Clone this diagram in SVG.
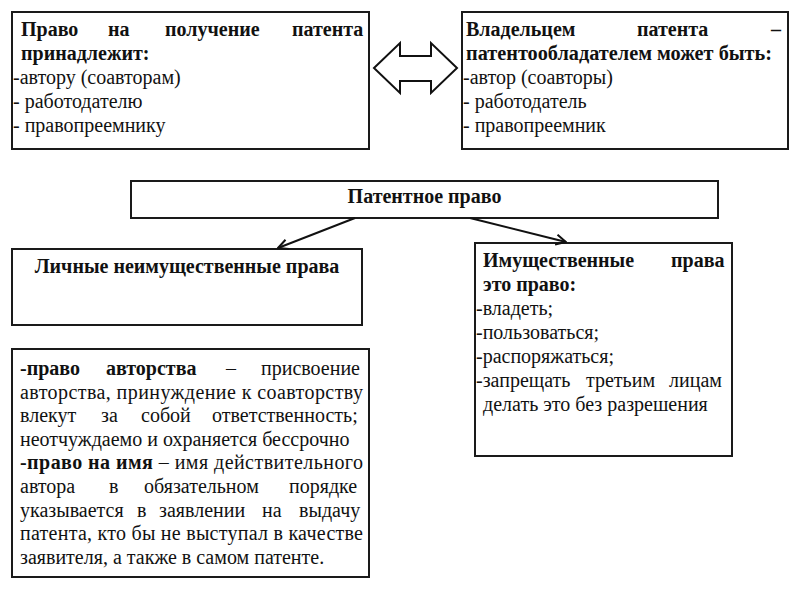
<svg xmlns="http://www.w3.org/2000/svg" width="800" height="600" viewBox="0 0 800 600">
<style>
.box{fill:#fff;stroke:#1a1a1a;stroke-width:2}
text{font-family:'Liberation Serif','DejaVu Serif','Times New Roman',serif;font-size:20px;fill:#111}
.b{font-weight:bold}
.conn{stroke:#111;stroke-width:2;fill:none}
</style>
<defs>
<marker id="arr" viewBox="0 0 12 12" refX="11" refY="6" markerWidth="12" markerHeight="12" markerUnits="userSpaceOnUse" orient="auto">
<path d="M1,1 L11,6 L1,11" fill="none" stroke="#111" stroke-width="2"/>
</marker>
</defs>
<rect width="800" height="600" fill="#fff"/>

<g id="node-right-to-patent">
<rect class="box" x="12" y="12" width="357" height="137"/>
<text class="b" y="36"><tspan x="21">Право</tspan><tspan x="108">на</tspan><tspan x="165">получение</tspan><tspan x="292">патента</tspan></text>
<text class="b" x="21" y="60">принадлежит:</text>
<text x="13" y="84">-автору (соавторам)</text>
<text x="13" y="108">- работодателю</text>
<text x="13" y="132">- правопреемнику</text>
</g>

<g id="node-owner">
<rect class="box" x="462" y="12" width="326" height="137"/>
<text class="b" y="36"><tspan x="466">Владельцем</tspan><tspan x="637">патента</tspan><tspan x="771">–</tspan></text>
<text class="b" x="466" y="60" textLength="306" lengthAdjust="spacingAndGlyphs">патентообладателем может быть:</text>
<text x="463" y="84">-автор (соавторы)</text>
<text x="463" y="108">- работодатель</text>
<text x="463" y="132">- правопреемник</text>
</g>

<g id="node-double-arrow">
<polygon points="374,68 400,43 400,56 431,56 431,43 457,68 431,93 431,81 400,81 400,93" fill="#fff" stroke="#111" stroke-width="2" stroke-linejoin="miter"/>
</g>

<g id="node-patent-law">
<rect class="box" x="131" y="181" width="587" height="37"/>
<text class="b" x="424.5" y="203" text-anchor="middle">Патентное право</text>
</g>

<g id="node-personal">
<rect class="box" x="12" y="249" width="350" height="76"/>
<text class="b" x="187" y="273" text-anchor="middle">Личные неимущественные права</text>
</g>

<g id="node-property">
<rect class="box" x="475" y="243" width="257" height="213"/>
<text class="b" y="267"><tspan x="483">Имущественные</tspan><tspan x="671">права</tspan></text>
<text class="b" x="483" y="291">это право:</text>
<text x="476" y="315">-владеть;</text>
<text x="476" y="339">-пользоваться;</text>
<text x="476" y="363">-распоряжаться;</text>
<text y="387"><tspan x="476">-запрещать</tspan><tspan x="586">третьим</tspan><tspan x="669">лицам</tspan></text>
<text x="483" y="411">делать это без разрешения</text>
</g>

<g id="node-personal-details">
<rect class="box" x="12" y="349" width="357" height="228"/>
<text y="375"><tspan class="b" x="20">-право</tspan><tspan class="b" x="106">авторства</tspan><tspan x="226">–</tspan><tspan x="261">присвоение</tspan></text>
<text x="20" y="398.6" textLength="343" lengthAdjust="spacing">авторства, принуждение к соавторству</text>
<text y="422.2"><tspan x="20">влекут</tspan><tspan x="101">за</tspan><tspan x="141">собой</tspan><tspan x="212">ответственность;</tspan></text>
<text x="20" y="445.8">неотчуждаемо и охраняется бессрочно</text>
<text x="20" y="469.4" textLength="343" lengthAdjust="spacing"><tspan class="b">-право на имя</tspan> – имя действительного</text>
<text y="493"><tspan x="20">автора</tspan><tspan x="109">в</tspan><tspan x="144">обязательном</tspan><tspan x="289">порядке</tspan></text>
<text y="516.6"><tspan x="20">указывается</tspan><tspan x="137">в</tspan><tspan x="159">заявлении</tspan><tspan x="262">на</tspan><tspan x="299">выдачу</tspan></text>
<text x="20" y="540.2" textLength="343" lengthAdjust="spacing">патента, кто бы не выступал в качестве</text>
<text x="20" y="563.8">заявителя, а также в самом патенте.</text>
</g>

<g id="connectors">
<line class="conn" x1="355" y1="218" x2="278" y2="248" marker-end="url(#arr)"/>
<line class="conn" x1="470" y1="218" x2="566" y2="242" marker-end="url(#arr)"/>
</g>
</svg>
